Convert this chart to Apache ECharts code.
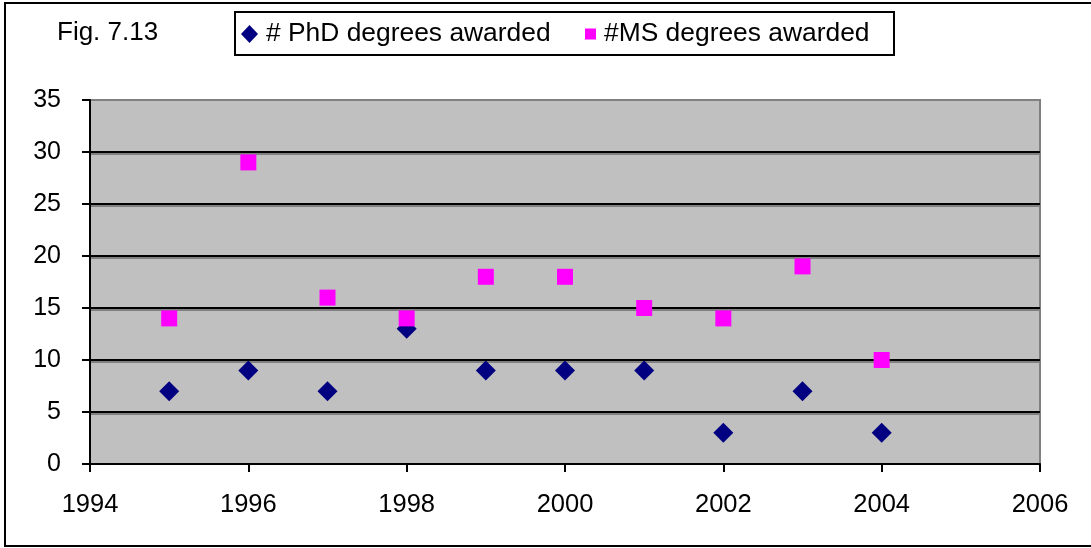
<!DOCTYPE html>
<html>
<head>
<meta charset="utf-8">
<script src="https://cdn.jsdelivr.net/npm/echarts@6/dist/echarts.min.js"></script>
<style>
html,body{margin:0;padding:0;background:#fff;}
#c{width:1091px;height:548px;}
</style>
</head>
<body>
<div id="c"></div>
<script>
const years = [1995, 1996, 1997, 1998, 1999, 2000, 2001, 2002, 2003, 2004];
const phd = [7, 9, 7, 13, 9, 9, 9, 3, 7, 3];
const ms = [14, 29, 16, 14, 18, 18, 15, 14, 19, 10];
const xTicks = [1994, 1996, 1998, 2000, 2002, 2004, 2006];
const yTicks = [0, 5, 10, 15, 20, 25, 30, 35];

const FONT = 'Arial, "Liberation Sans", sans-serif';
const chart = echarts.init(document.getElementById('c'), null, {renderer: 'canvas'});
chart.setOption({
  backgroundColor: '#fff',
  animation: false,
  title: {
    text: 'Fig. 7.13', left: 57, top: 20, padding: 0,
    textStyle: {fontFamily: FONT, fontSize: 26, fontWeight: 'normal', color: '#000'}
  },
  graphic: [
    {type: 'rect', shape: {x: 5, y: 3, width: 1100, height: 543}, style: {fill: 'none', stroke: '#000', lineWidth: 2}, silent: true},
    {type: 'rect', shape: {x: 235, y: 12, width: 659, height: 43}, style: {fill: 'none', stroke: '#000', lineWidth: 2}, silent: true}
  ],
  legend: [
    {data: [{name: '# PhD degrees awarded', icon: 'diamond'}], left: 241, top: 21, padding: 0,
     itemWidth: 17, itemHeight: 18, selectedMode: false,
     itemStyle: {opacity: 1},
     textStyle: {fontFamily: FONT, fontSize: 26.4, color: '#000', padding: [0, 0, 0, 3]}},
    {data: [{name: '#MS degrees awarded', icon: 'rect'}], left: 585, top: 21, padding: 0,
     itemWidth: 11, itemHeight: 11, selectedMode: false,
     itemStyle: {opacity: 1},
     textStyle: {fontFamily: FONT, fontSize: 26.4, color: '#000', padding: [0, 0, 0, 3]}}
  ],
  grid: {left: 90, right: 51, top: 100, bottom: 84, show: true, backgroundColor: '#c0c0c0', borderColor: '#808080', borderWidth: 2},
  xAxis: {
    type: 'value', min: xTicks[0], max: xTicks[xTicks.length - 1], interval: 2,
    axisLine: {show: true, onZero: false, lineStyle: {color: '#000', width: 2}},
    axisTick: {show: true, length: 8, lineStyle: {color: '#000', width: 2}},
    axisLabel: {fontFamily: FONT, fontSize: 25.5, color: '#000', margin: 28, formatter: v => String(v)},
    splitLine: {show: false}
  },
  yAxis: {
    type: 'value', min: yTicks[0], max: yTicks[yTicks.length - 1], interval: 5,
    axisLine: {show: true, lineStyle: {color: '#000', width: 2}},
    axisTick: {show: true, length: 8, lineStyle: {color: '#000', width: 2}},
    axisLabel: {fontFamily: FONT, fontSize: 25, color: '#000', margin: 29},
    splitLine: {show: true, showMinLine: false, showMaxLine: false,
      lineStyle: {color: '#000', width: 2, shadowColor: '#808080', shadowBlur: 0, shadowOffsetY: 2}}
  },
  series: [
    {name: '# PhD degrees awarded', type: 'scatter', symbol: 'diamond', symbolSize: 20,
     itemStyle: {color: '#000080', opacity: 1}, data: years.map((y, i) => [y, phd[i]])},
    {name: '#MS degrees awarded', type: 'scatter', symbol: 'rect', symbolSize: 16,
     itemStyle: {color: '#ff00ff', opacity: 1}, data: years.map((y, i) => [y, ms[i]])}
  ]
});
</script>
</body>
</html>
